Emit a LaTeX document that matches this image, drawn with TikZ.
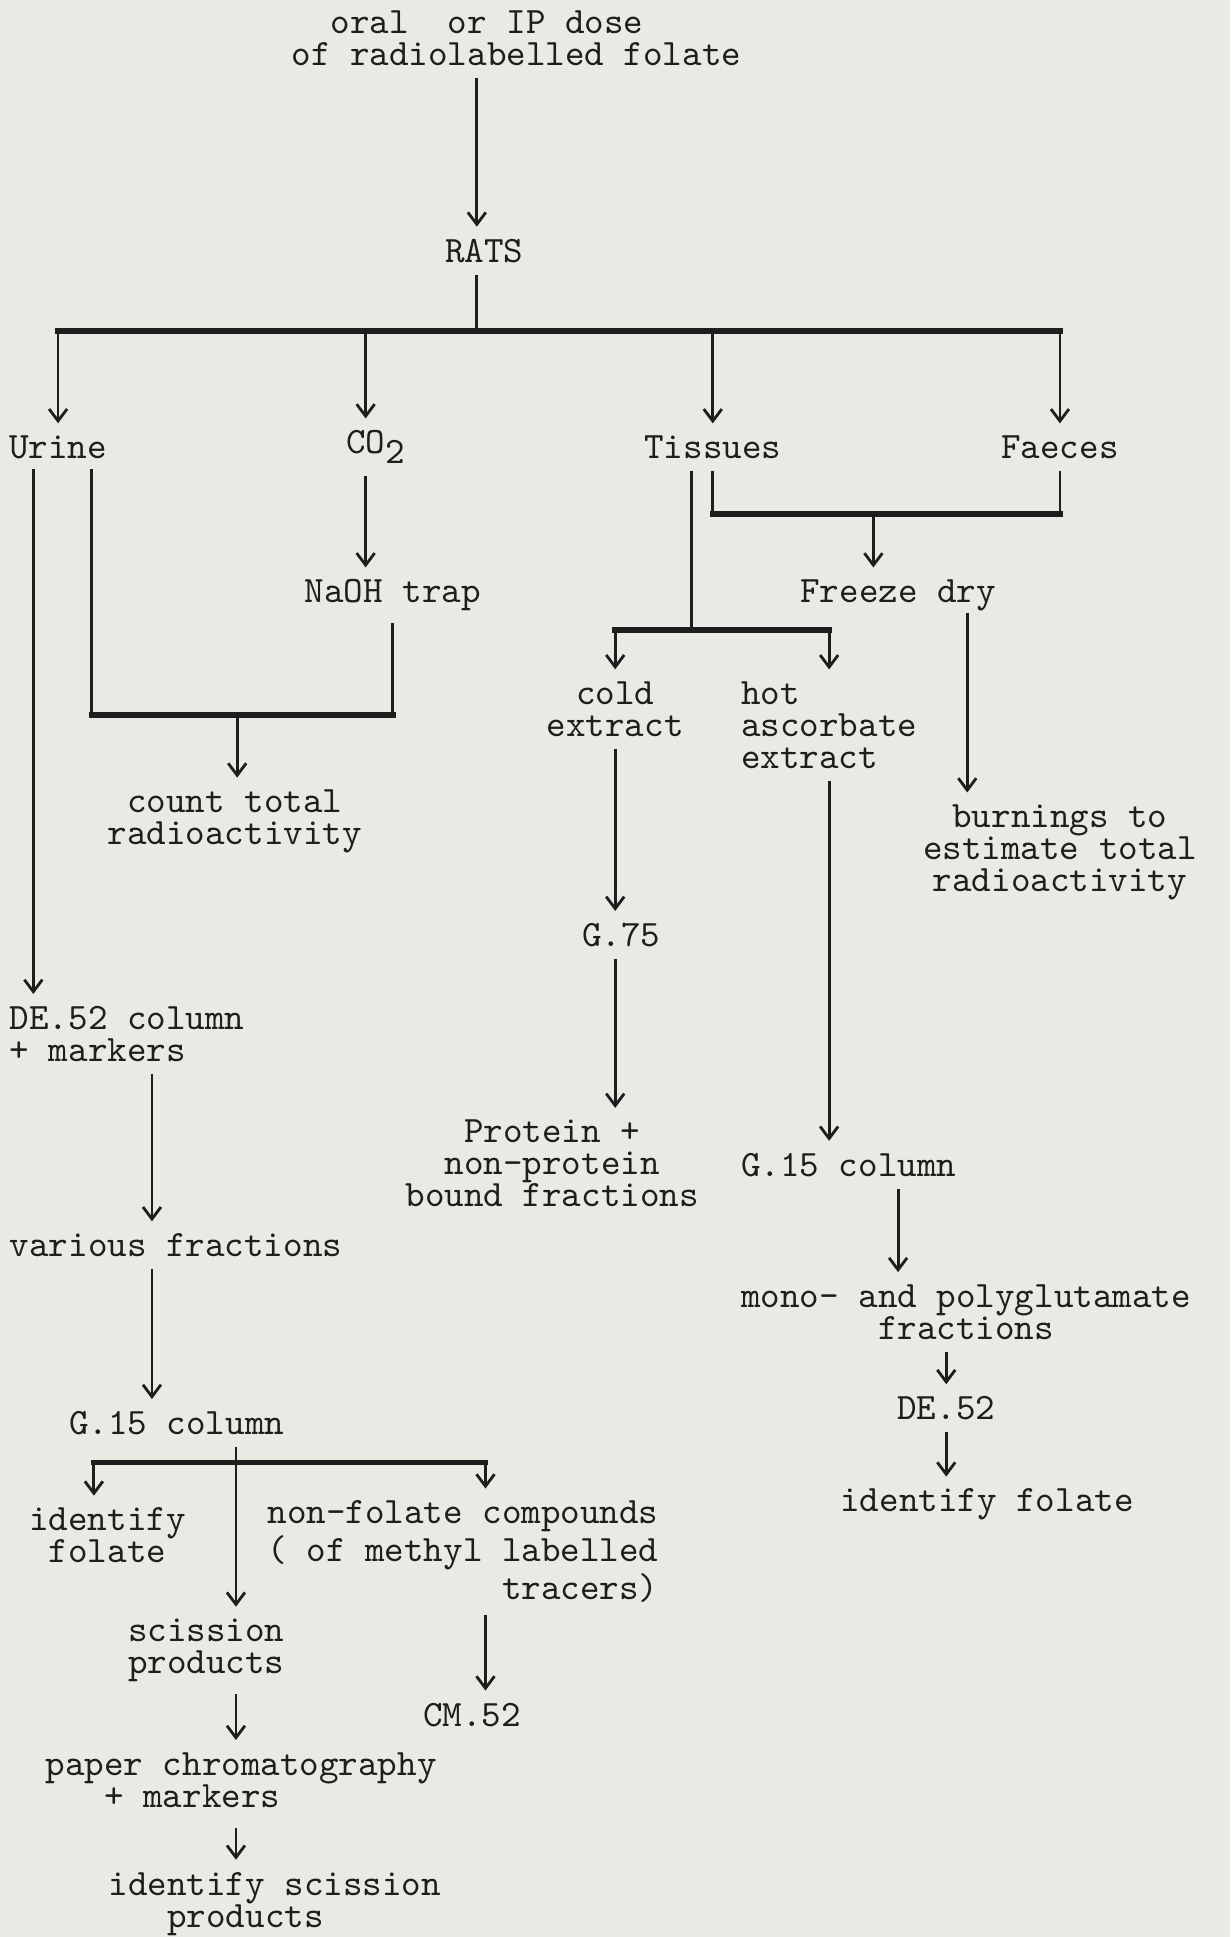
\documentclass[tikz,border=0pt]{standalone}
\usepackage{fontspec}
\usetikzlibrary{positioning,arrows.meta,calc}
\definecolor{twInk}{RGB}{30,30,30}
\definecolor{twPaper}{RGB}{231,235,228}
\newcommand{\typeface}{\ttfamily\fontsize{10.6}{9.1}\selectfont\addfontfeatures{FakeBold=0.8}}

\begin{document}
\begin{tikzpicture}[
    x=0.01236cm, y=-0.01236cm,
    step node/.style={inner sep=0pt, outer sep=3.5pt, text=twInk, font=\typeface},
    flow/.style={draw=twInk, line width=0.8pt, -{Straight Barb[length=1.2mm,width=1.8mm,line width=0.8pt]}},
    link/.style={draw=twInk, line width=0.8pt},
    bar line/.style={draw=twInk, line width=1.6pt, line cap=rect}
]
  \fill[twPaper] (0,0) rectangle (996,1568);
  \useasboundingbox (0,0) rectangle (996,1568);

  % dose and the four outputs
  \node[step node, align=left] (dose) at (418,31) {\phantom{of}oral\ \ or IP dose\\of radiolabelled folate};
  \node[step node] (rats) at (392,203) {RATS};
  \node[step node] (urine) at (47,362) {Urine};
  \node[step node] (carbon) at (296,362) {CO\rlap{\raisebox{-0.6ex}{2}}};
  \node[step node] (tissues) at (577,362) {Tissues};
  \node[step node] (faeces) at (858,362) {Faeces};

  % second level
  \node[step node] (naoh) at (318,482) {NaOH trap};
  \node[step node] (freeze) at (727,482) {Freeze dry};
  \node[step node, align=center] (cold) at (498,574) {cold\\extract};
  \node[step node, align=left, anchor=west] (hot) at (590,587) {hot\\ascorbate\\extract};
  \node[step node, align=center] (count) at (190,665) {count total\\radioactivity};
  \node[step node, align=center] (burn) at (858,690) {burnings to\\estimate total\\radioactivity};

  % tissue extracts
  \node[step node] (gsevfive) at (503,757) {G.75};
  \node[step node, align=center] (protein) at (447,942) {Protein +\\non-protein\\bound fractions};
  \node[step node, anchor=west] (colright) at (590,943) {G.15 column};
  \node[step node, align=center] (mono) at (782,1062) {mono- and polyglutamate\\fractions};
  \node[step node] (deright) at (766,1140) {DE.52};
  \node[step node] (folright) at (799,1218) {identify folate};

  % urine work-up
  \node[step node, align=left, anchor=west] (deleft) at (-2,837) {DE.52 column\\+ markers};
  \node[step node, anchor=west] (various) at (-2,1008) {various fractions};
  \node[step node] (colleft) at (143,1152) {G.15 column};
  \node[step node, align=center] (folleft) at (87,1243) {identify\\folate};
  \node[step node, align=right, anchor=east] (nonfolate) at (543,1256) {non-folate compounds\\( of methyl labelled\\tracers)};
  \node[step node] (cmfive) at (382,1388) {CM.52};
  \node[step node, align=center] (scission) at (167,1336) {scission\\products};
  \node[step node, align=left, anchor=west] (paper) at (27,1444) {paper chromatography\\\phantom{pap}+ markers};
  \node[step node, align=left, anchor=west] (idscission) at (78,1541) {identify scission\\\phantom{ide}products};

  % main stem
  \coordinate (split) at (386,268);
  \draw[flow] (dose.south -| split) -- (rats.north -| split);
  \draw[link] (rats.south -| split) -- (split);
  \draw[bar line] (urine.north |- split) -- (faeces.north |- split);
  \foreach \leaf in {urine,carbon,tissues,faeces}
    \draw[flow] (\leaf.north |- split) -- (\leaf.north);

  % urine and CO2
  \coordinate (urineout) at (27,380);
  \coordinate (urinecount) at (74,380);
  \coordinate (countbar) at (192,579);
  \draw[flow] (urineout) -- (urineout |- deleft.north);
  \draw[link] (urinecount) -- (urinecount |- countbar);
  \draw[flow] (carbon.south) -- (carbon.south |- naoh.north);
  \draw[link] (naoh.south) -- (naoh.south |- countbar);
  \draw[bar line] (urinecount |- countbar) -- (naoh.south |- countbar);
  \draw[flow] (countbar) -- (count.north -| countbar);

  % tissues and faeces
  \coordinate (tissuesplit) at (560,510);
  \coordinate (drysplit) at (707,416);
  \coordinate (burnx) at (783,496);
  \draw[link] (tissues.south -| tissuesplit) -- (tissuesplit);
  \draw[bar line] (cold.north |- tissuesplit) -- (hot.north |- tissuesplit);
  \draw[flow] (cold.north |- tissuesplit) -- (cold.north);
  \draw[flow] (hot.north |- tissuesplit) -- (hot.north);
  \draw[link] (tissues.south) -- (tissues.south |- drysplit);
  \draw[link] (faeces.south) -- (faeces.south |- drysplit);
  \draw[bar line] (tissues.south |- drysplit) -- (faeces.south |- drysplit);
  \draw[flow] (drysplit) -- (freeze.north -| drysplit);
  \draw[flow] (burnx) -- (burnx |- burn.north);

  % extracts
  \coordinate (monox) at (727,956);
  \draw[flow] (cold.south) -- (cold.south |- gsevfive.north);
  \draw[flow] (cold.south |- gsevfive.south) -- (cold.south |- protein.north);
  \draw[flow] (hot.south) -- (hot.south |- colright.north);
  \draw[flow] (colright.south -| monox) -- (mono.north -| monox);
  \draw[flow] (mono.south -| deright.north) -- (deright.north);
  \draw[flow] (deright.south) -- (folright.north -| deright.south);

  % urine columns
  \coordinate (leftx) at (123,850);
  \coordinate (colsplit) at (191,1184);
  \coordinate (folsplit) at (76,1184);
  \coordinate (compsplit) at (393,1184);
  \draw[flow] (deleft.south -| leftx) -- (various.north -| leftx);
  \draw[flow] (various.south -| leftx) -- (colleft.north -| leftx);
  \draw[bar line] (folsplit) -- (compsplit);
  \draw[flow] (colleft.south -| colsplit) -- (scission.north -| colsplit);
  \draw[flow] (folsplit) -- (folsplit |- folleft.north);
  \draw[flow] (compsplit) -- (compsplit |- nonfolate.north);
  \draw[flow] (nonfolate.south -| compsplit) -- (cmfive.north -| compsplit);
  \draw[flow] (scission.south -| colsplit) -- (paper.north -| colsplit);
  \draw[flow] (paper.south -| colsplit) -- (idscission.north -| colsplit);
\end{tikzpicture}
\end{document}
